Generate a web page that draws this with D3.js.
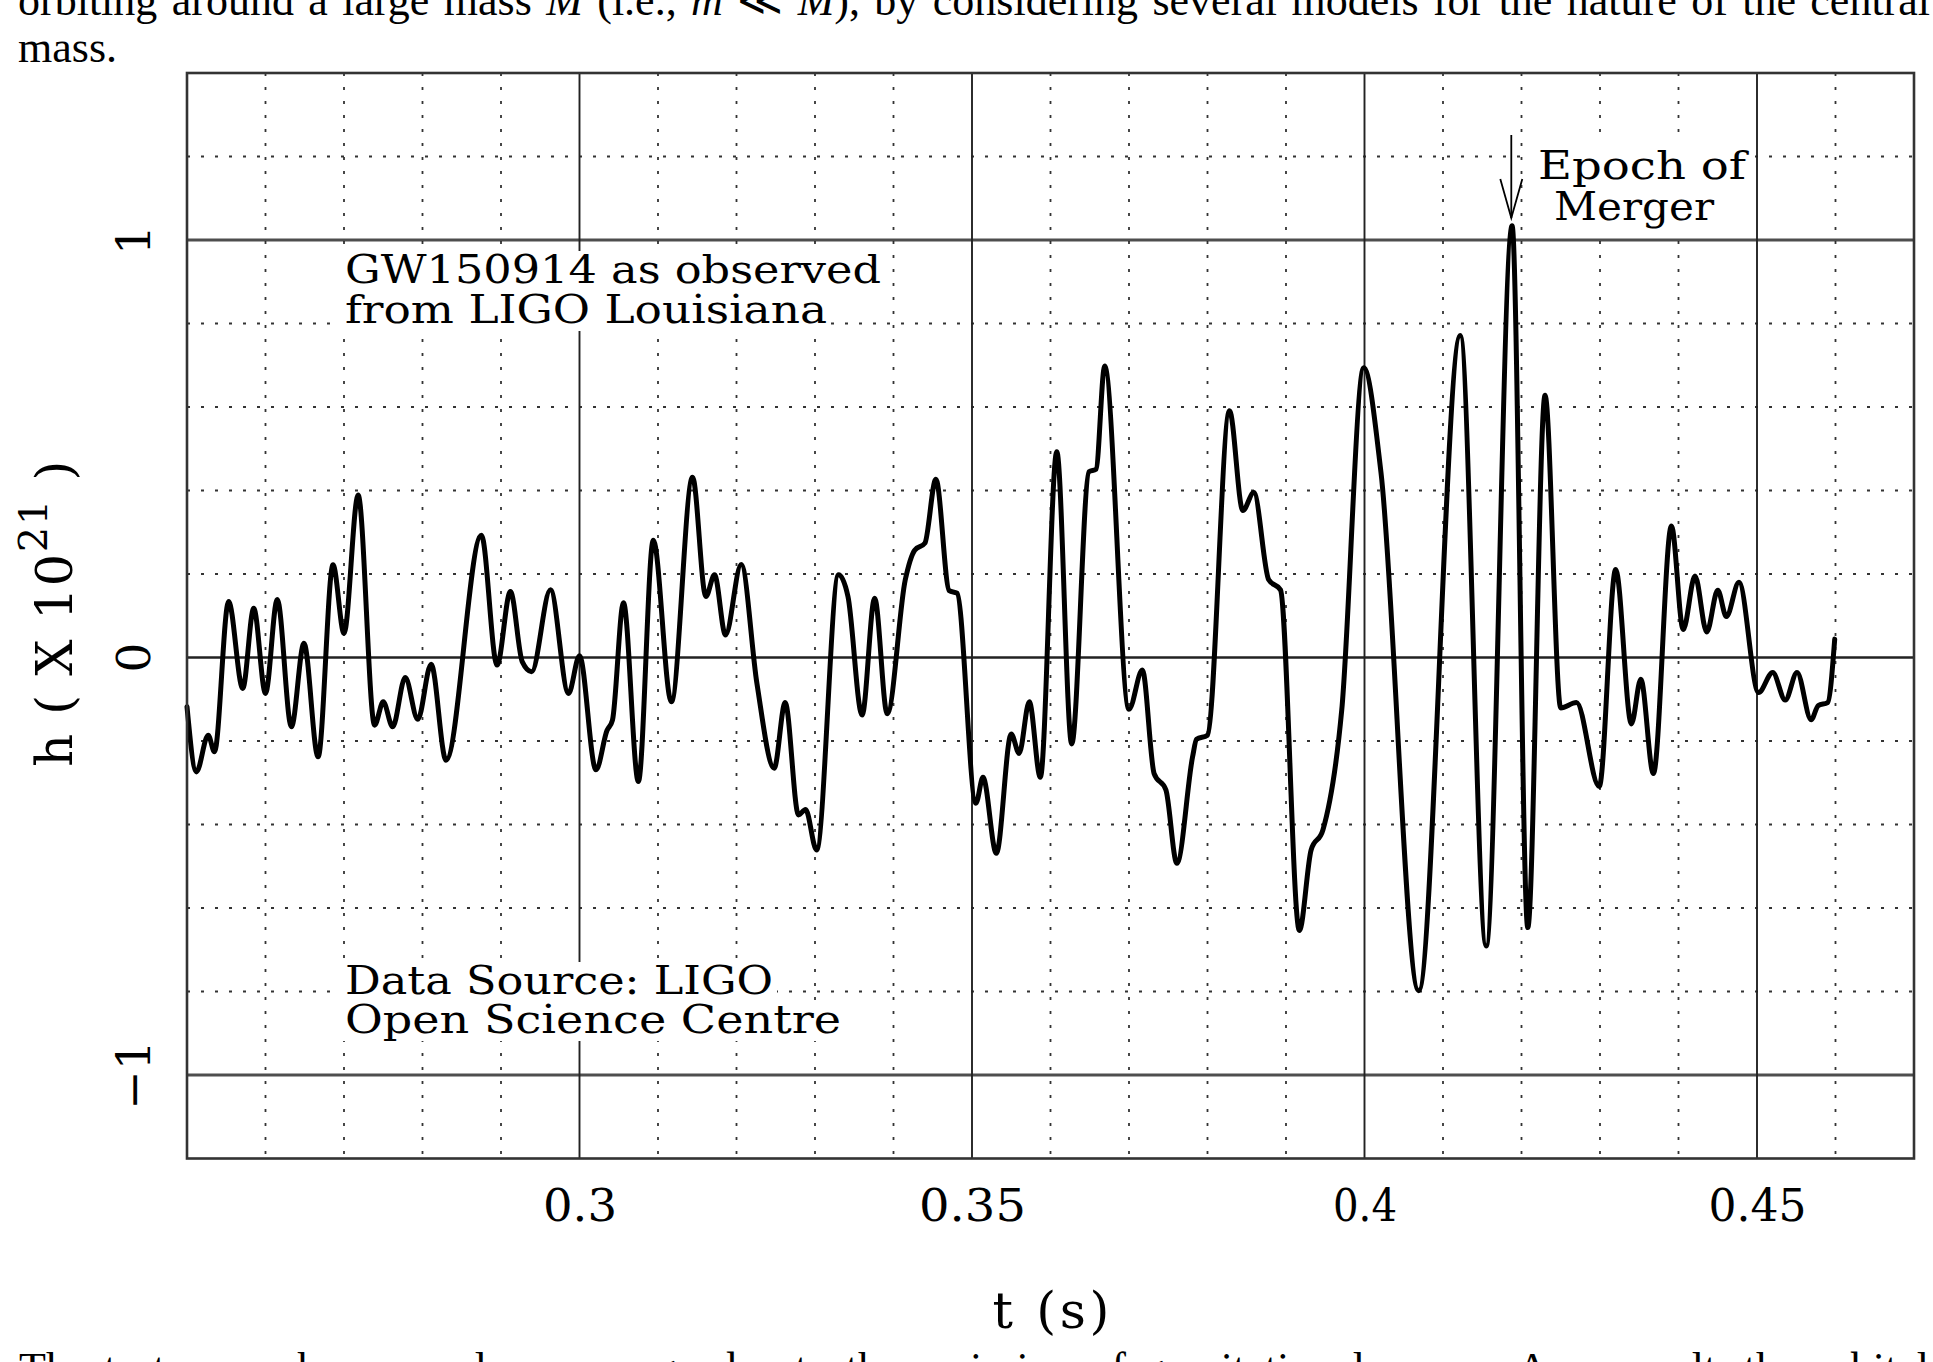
<!DOCTYPE html>
<html>
<head>
<meta charset="utf-8">
<script src="https://cdn.jsdelivr.net/npm/d3@7/dist/d3.min.js"></script>
<style>
  html, body { margin: 0; padding: 0; background: #fff; }
  svg { display: block; }
</style>
</head>
<body>
<svg id="chart" width="1933" height="1362"></svg>
<script>
// ---------------- DATA ----------------
const times = [
  0.2500, 0.2512, 0.2527, 0.2535, 0.2553, 0.2571, 0.2585, 0.2600, 0.2615, 0.2633,
  0.2649, 0.2667, 0.2686, 0.2700, 0.2718, 0.2739, 0.2750, 0.2762, 0.2778, 0.2794,
  0.2811, 0.2830, 0.2875, 0.2895, 0.2912, 0.2927, 0.2939, 0.2963, 0.2986, 0.3000,
  0.3021, 0.3035, 0.3042, 0.3056, 0.3075, 0.3094, 0.3117, 0.3144, 0.3161, 0.3172,
  0.3186, 0.3206, 0.3226, 0.3248, 0.3262, 0.3279, 0.3288, 0.3302, 0.3330, 0.3342,
  0.3360, 0.3376, 0.3392, 0.3415, 0.3427, 0.3440, 0.3454, 0.3471, 0.3481, 0.3505,
  0.3514, 0.3531, 0.3550, 0.3560, 0.3573, 0.3587, 0.3608, 0.3627, 0.3649, 0.3658,
  0.3669, 0.3700, 0.3717, 0.3732, 0.3747, 0.3761, 0.3781, 0.3786, 0.3800, 0.3828,
  0.3845, 0.3859, 0.3878, 0.3893, 0.3917, 0.3932, 0.3947, 0.3971, 0.3999, 0.4021,
  0.4069, 0.4122, 0.4155, 0.4188, 0.4208, 0.4230, 0.4250, 0.4270, 0.4299, 0.4320,
  0.4340, 0.4352, 0.4368, 0.4391, 0.4406, 0.4421, 0.4436, 0.4450, 0.4461, 0.4477,
  0.4502, 0.4520, 0.4536, 0.4551, 0.4569, 0.4578, 0.4590, 0.4599
];
const strain = [
  -0.118, -0.274, -0.186, -0.226, 0.134, -0.074, 0.118, -0.086, 0.139, -0.166,
  0.034, -0.238, 0.222, 0.058, 0.389, -0.162, -0.106, -0.166, -0.048, -0.148,
  -0.016, -0.246, 0.293, -0.018, 0.158, -0.010, -0.034, 0.162, -0.086, 0.004,
  -0.269, -0.175, -0.150, 0.131, -0.297, 0.281, -0.106, 0.432, 0.146, 0.198,
  0.054, 0.223, -0.062, -0.265, -0.108, -0.377, -0.364, -0.461, 0.198, 0.146,
  -0.138, 0.142, -0.135, 0.186, 0.257, 0.274, 0.427, 0.160, 0.154, -0.349,
  -0.287, -0.469, -0.183, -0.230, -0.106, -0.287, 0.493, -0.207, 0.445, 0.451,
  0.698, -0.124, -0.030, -0.278, -0.317, -0.493, -0.238, -0.196, -0.186, 0.591,
  0.352, 0.395, 0.186, 0.162, -0.654, -0.461, -0.413, -0.126, 0.694, 0.443,
  -0.798, 0.771, -0.691, 1.034, -0.647, 0.628, -0.121, -0.108, -0.309, 0.211,
  -0.159, -0.052, -0.278, 0.315, 0.067, 0.195, 0.061, 0.161, 0.098, 0.180,
  -0.084, -0.036, -0.102, -0.036, -0.149, -0.115, -0.108, 0.044
];
const xMajorTicks = [0.30, 0.35, 0.40, 0.45];
const xTickLabels = ["0.3", "0.35", "0.4", "0.45"];
const xMinorGrid = [0.26, 0.27, 0.28, 0.29, 0.31, 0.32, 0.33, 0.34, 0.36, 0.37, 0.38, 0.39, 0.41, 0.42, 0.43, 0.44, 0.46];
const yMajorTicks = [-1, 0, 1];
const yTickLabels = ["\u22121", "0", "1"];
const yMinorGrid = [-0.8, -0.6, -0.4, -0.2, 0.2, 0.4, 0.6, 0.8, 1.2];
const mergerEpoch = 0.4187;

// ---------------- LAYOUT ----------------
const svg = d3.select("#chart");
const L = 187, R = 1914, T = 73, B = 1158.5;
const x = d3.scaleLinear().domain([0.25, 0.47]).range([L, R]);
const y = d3.scaleLinear().domain([-1.2, 1.4]).range([B, T]);

const serif = "'DejaVu Serif', 'Liberation Serif', serif";
const times_ = "'Liberation Serif', 'Times New Roman', serif";

// ---------------- PARAGRAPH TEXT (page context) ----------------
function justify(sel, target) {
  const node = sel.node();
  const w = node.getComputedTextLength();
  const txt = node.textContent;
  const n = (txt.match(/ /g) || []).length;
  if (n > 0) sel.attr("word-spacing", (target - w) / n);
}
const p1 = svg.append("text").attr("x", 18).attr("y", 15)
  .attr("font-family", times_).attr("font-size", 44).attr("fill", "#000");
p1.append("tspan").text("orbiting around a large mass ");
p1.append("tspan").attr("font-style", "italic").text("M");
p1.append("tspan").text(" (i.e., ");
p1.append("tspan").attr("font-style", "italic").text("m");
p1.append("tspan").text(" \u226A ");
p1.append("tspan").attr("font-style", "italic").text("M");
p1.append("tspan").text("), by considering several models for the nature of the central");
justify(p1, 1912);

svg.append("text").attr("x", 18).attr("y", 62)
  .attr("font-family", times_).attr("font-size", 44).attr("fill", "#000")
  .text("mass.");

const p3 = svg.append("text").attr("x", 19).attr("y", 1383)
  .attr("font-family", times_).attr("font-size", 44).attr("fill", "#000")
  .text("The test mass, however, loses energy due to the emission of gravitational waves. As a result, the orbital");
justify(p3, 1910);

// ---------------- GRID ----------------
const grid = svg.append("g");
grid.selectAll("line.vmin").data(xMinorGrid).join("line")
  .attr("x1", d => x(d)).attr("x2", d => x(d)).attr("y1", T).attr("y2", B)
  .attr("stroke", "#333").attr("stroke-width", 1.8).attr("stroke-dasharray", "3,11");
grid.selectAll("line.hmin").data(yMinorGrid).join("line")
  .attr("x1", L).attr("x2", R).attr("y1", d => y(d)).attr("y2", d => y(d))
  .attr("stroke", "#333").attr("stroke-width", 1.8).attr("stroke-dasharray", "3,11");
grid.selectAll("line.vmaj").data(xMajorTicks).join("line")
  .attr("x1", d => x(d)).attr("x2", d => x(d)).attr("y1", T).attr("y2", B)
  .attr("stroke", "#222").attr("stroke-width", 1.9);
grid.selectAll("line.hmaj").data(yMajorTicks).join("line")
  .attr("x1", L).attr("x2", R).attr("y1", d => y(d)).attr("y2", d => y(d))
  .attr("stroke", "#222").attr("stroke-width", d => d === 0 ? 2.6 : 3)
  .attr("stroke-opacity", d => d === 0 ? 1 : 0.8);

// ---------------- WAVEFORM ----------------
const pts = times.map((t, i) => [t, strain[i]]);
const line = d3.line().x(d => x(d[0])).y(d => y(d[1])).curve(d3.curveMonotoneX);
svg.append("path").datum(pts).attr("d", line)
  .attr("fill", "none").attr("stroke", "#000").attr("stroke-width", 5)
  .attr("stroke-linejoin", "round").attr("stroke-linecap", "round");

// ---------------- ANNOTATIONS ----------------
function boxedLine(txt, x0, base, len, size) {
  svg.append("rect").attr("x", x0 - 4).attr("y", base - size * 0.8)
    .attr("width", len + 8).attr("height", size * 1.0).attr("fill", "#fff");
  svg.append("text").attr("x", x0).attr("y", base)
    .attr("font-family", serif).attr("font-size", size).attr("fill", "#000")
    .attr("textLength", len).attr("lengthAdjust", "spacingAndGlyphs")
    .text(txt);
}
boxedLine("GW150914 as observed", 345, 283, 536, 40);
boxedLine("from LIGO Louisiana", 345, 323, 482, 40);
boxedLine("Data Source: LIGO", 345, 994, 428, 40);
boxedLine("Open Science Centre", 345, 1033, 496, 40);
svg.append("rect").attr("x", 1530).attr("y", 137).attr("width", 218).attr("height", 98).attr("fill", "#fff");
boxedLine("Epoch of", 1538, 179, 208, 40);
boxedLine("Merger", 1554, 220, 160, 40);

const ax = x(mergerEpoch);
svg.append("line").attr("x1", ax).attr("x2", ax).attr("y1", 135).attr("y2", 218)
  .attr("stroke", "#000").attr("stroke-width", 1.8);
svg.append("path")
  .attr("d", `M${ax - 11},${179} L${ax},${218} L${ax + 11},${179}`)
  .attr("fill", "none").attr("stroke", "#000").attr("stroke-width", 1.8);

// ---------------- FRAME ----------------
svg.append("rect").attr("x", L).attr("y", T).attr("width", R - L).attr("height", B - T)
  .attr("fill", "none").attr("stroke", "#333").attr("stroke-width", 2.6);

// ---------------- AXES ----------------
const xAxis = d3.axisBottom(x).tickValues(xMajorTicks)
  .tickFormat((d, i) => xTickLabels[i]).tickSize(0).tickPadding(31);
const gx = svg.append("g").attr("transform", `translate(0,${B})`).call(xAxis);
gx.select(".domain").remove();
gx.selectAll("text").attr("font-family", serif).attr("font-size", 45).attr("fill", "#000")
  .each(function(d, i) { d3.select(this).attr("textLength", [74, 107, 64, 98][i]).attr("lengthAdjust", "spacingAndGlyphs"); });

const gy = svg.append("g");
gy.selectAll("text").data(yMajorTicks).join("text")
  .attr("transform", d => `translate(150,${y(d)}) rotate(-90)`)
  .attr("text-anchor", "middle")
  .attr("font-family", serif).attr("font-size", 47).attr("fill", "#000")
  .text((d, i) => yTickLabels[i]);

svg.append("text").attr("x", 1051).attr("y", 1328).attr("text-anchor", "middle")
  .attr("font-family", serif).attr("font-size", 51).attr("fill", "#000")
  .attr("textLength", 117).attr("lengthAdjust", "spacing")
  .text("t (s)");

const yl = svg.append("text").attr("transform", "translate(72,613) rotate(-90)")
  .attr("text-anchor", "middle")
  .attr("font-family", serif).attr("font-size", 51).attr("fill", "#000")
  .attr("letter-spacing", 1.5);
yl.append("tspan").text("h ( X 10");
yl.append("tspan").attr("font-size", 40).attr("dy", -25).text("21");
yl.append("tspan").attr("dy", 25).text(" )");
</script>
</body>
</html>
